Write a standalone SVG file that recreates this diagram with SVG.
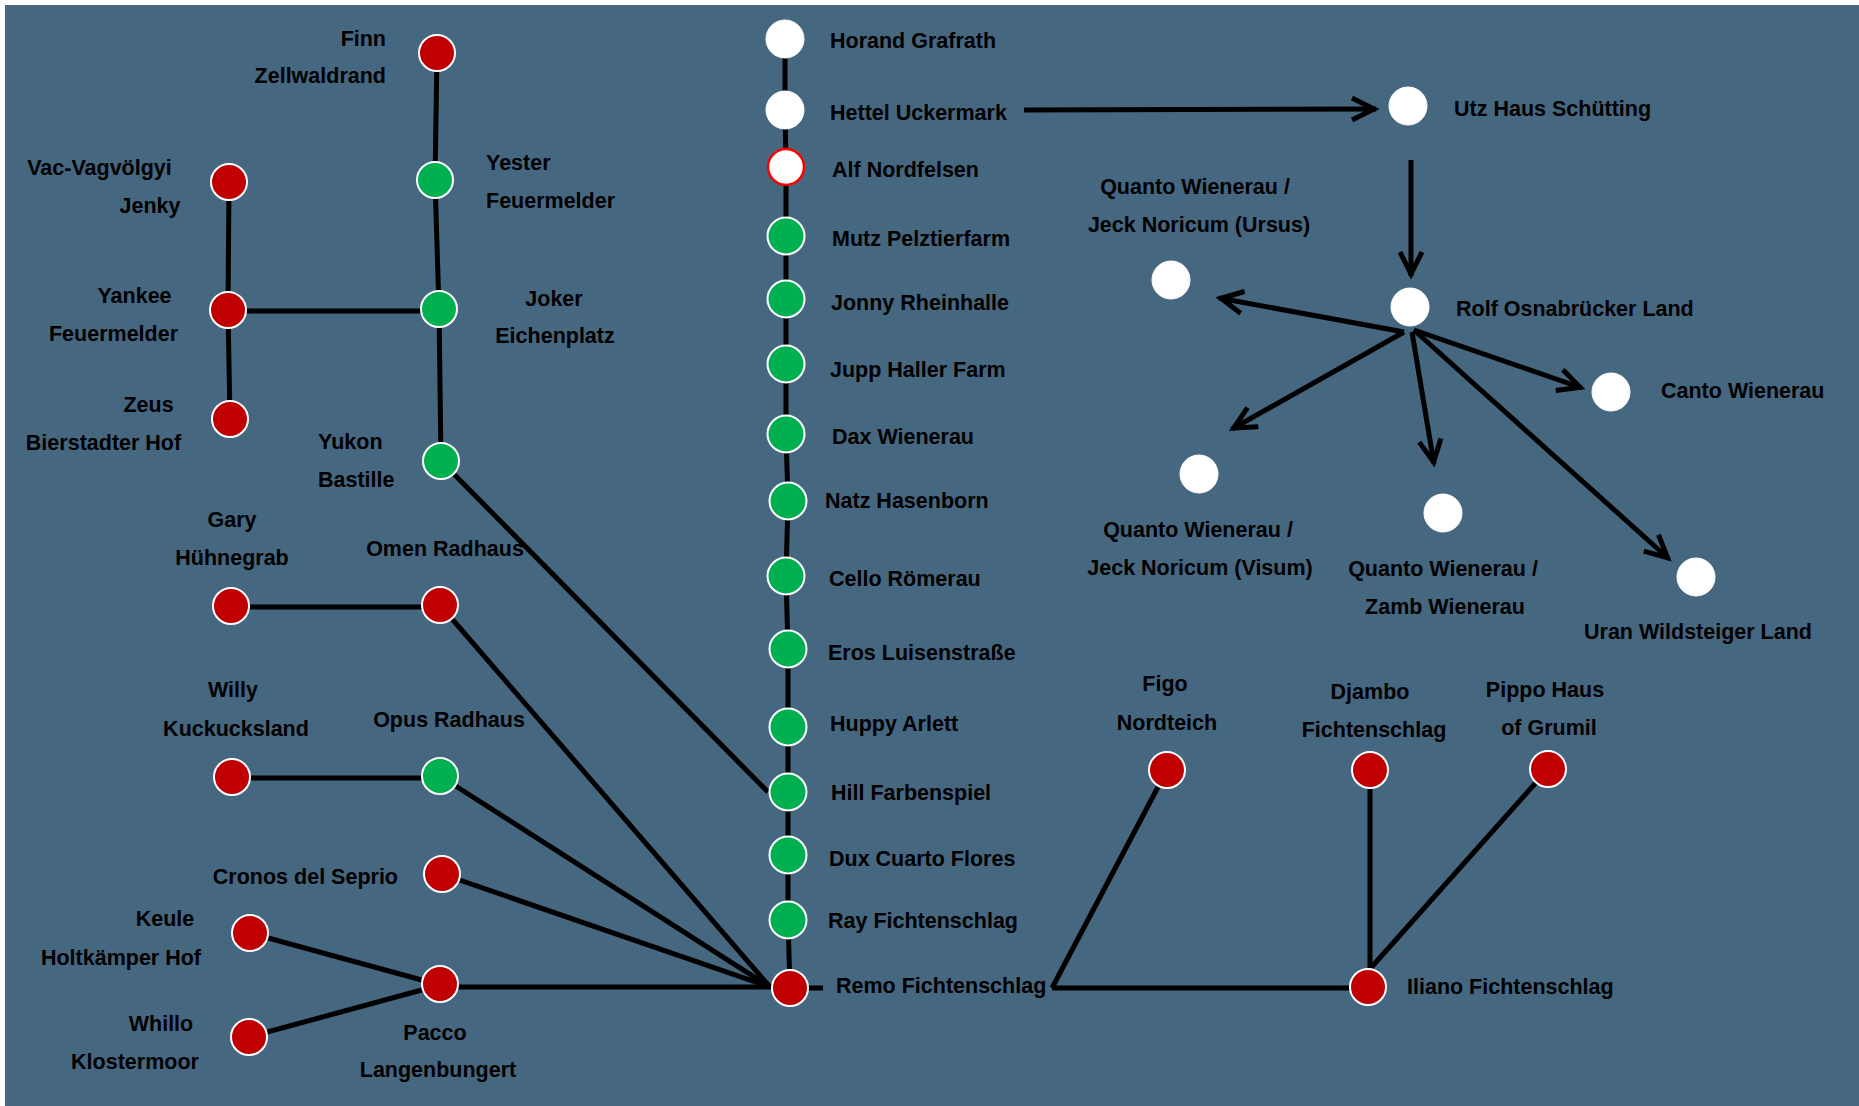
<svg xmlns="http://www.w3.org/2000/svg" width="1859" height="1106" viewBox="0 0 1859 1106">
<style>
text{font-family:"Liberation Sans",Arial,sans-serif;font-weight:bold;font-size:21.5px;fill:#000}
.m{text-anchor:middle}.e{text-anchor:end}
.red{fill:#C00000;stroke:#fff;stroke-width:2}
.grn{fill:#00B050;stroke:#fff;stroke-width:2}
.wht{fill:#fff;stroke:#fff;stroke-width:1}
.alf{fill:#fff;stroke:#f00;stroke-width:2.5}
.c line,.c polyline{stroke:#000;stroke-width:5;fill:none}
.c .a{marker-end:url(#arr)}
</style>
<defs>
<marker id="arr" markerUnits="userSpaceOnUse" markerWidth="40" markerHeight="40" viewBox="-30 -20 40 40" refX="0" refY="0" orient="auto" overflow="visible">
<path d="M-24,-11 L-2,0 L-24,11" fill="none" stroke="#000" stroke-width="5"/>
</marker>
</defs>
<rect x="0" y="0" width="1859" height="1106" fill="#fff"/>
<rect x="5" y="5" width="1854" height="1101" fill="#456780"/>
<g class="c" id="connectors">
<polyline points="785,39 785,110 786,167 786,236 786,299 786,364 786,434 788,501 786,576 788,649 788,727 788,792 788,855 788,920 790,988"/>
<line x1="437" y1="53" x2="435" y2="180"/>
<line x1="435" y1="180" x2="439" y2="309"/>
<line x1="439" y1="309" x2="441" y2="461"/>
<line x1="229" y1="182" x2="228" y2="310"/>
<line x1="228" y1="310" x2="230" y2="419"/>
<line x1="228" y1="311" x2="439" y2="311"/>
<line x1="441" y1="461" x2="768" y2="792"/>
<line x1="231" y1="607" x2="440" y2="607"/>
<line x1="440" y1="605" x2="770" y2="987"/>
<line x1="232" y1="778" x2="440" y2="778"/>
<line x1="440" y1="776" x2="770" y2="987"/>
<line x1="442" y1="874" x2="770" y2="987"/>
<line x1="250" y1="933" x2="440" y2="985"/>
<line x1="249" y1="1037" x2="440" y2="985"/>
<line x1="440" y1="987" x2="790" y2="987"/>
<line x1="790" y1="988" x2="823" y2="988"/>
<line x1="1167" y1="770" x2="1052" y2="988"/>
<line x1="1052" y1="988" x2="1368" y2="988"/>
<line x1="1370" y1="770" x2="1370" y2="987"/>
<line x1="1548" y1="769" x2="1369" y2="970"/>
<line class="a" x1="1024" y1="110" x2="1376" y2="109"/>
<line class="a" x1="1411" y1="160" x2="1411" y2="276"/>
<line class="a" x1="1404" y1="332" x2="1219" y2="298"/>
<line class="a" x1="1414" y1="330" x2="1582" y2="388"/>
<line class="a" x1="1404" y1="332" x2="1232" y2="429"/>
<line class="a" x1="1412" y1="332" x2="1434" y2="464"/>
<line class="a" x1="1414" y1="330" x2="1669" y2="559"/>
</g>
<g id="n_finn"><circle class="red" cx="437" cy="53" r="18"/><text class="e" x="386" y="46">Finn</text><text class="e" x="386" y="83">Zellwaldrand</text></g>
<g id="n_yester"><circle class="grn" cx="435" cy="180" r="18"/><text x="486" y="170">Yester</text><text x="486" y="208">Feuermelder</text></g>
<g id="n_vac"><circle class="red" cx="229" cy="182" r="18"/><text class="m" x="99.5" y="175">Vac-Vagvölgyi</text><text class="m" x="150" y="213">Jenky</text></g>
<g id="n_yankee"><circle class="red" cx="228" cy="310" r="18"/><text class="m" x="134.5" y="303">Yankee</text><text class="m" x="113.5" y="341">Feuermelder</text></g>
<g id="n_joker"><circle class="grn" cx="439" cy="309" r="18"/><text class="m" x="554" y="306">Joker</text><text class="m" x="555" y="343">Eichenplatz</text></g>
<g id="n_zeus"><circle class="red" cx="230" cy="419" r="18"/><text class="m" x="148.5" y="412">Zeus</text><text class="m" x="103.5" y="450">Bierstadter Hof</text></g>
<g id="n_yukon"><circle class="grn" cx="441" cy="461" r="18"/><text x="318" y="449">Yukon</text><text x="318" y="487">Bastille</text></g>
<g id="n_gary"><circle class="red" cx="231" cy="606" r="18"/><text class="m" x="232" y="527">Gary</text><text class="m" x="232" y="565">Hühnegrab</text></g>
<g id="n_omen"><circle class="red" cx="440" cy="605" r="18"/><text class="m" x="445" y="556">Omen Radhaus</text></g>
<g id="n_willy"><circle class="red" cx="232" cy="777" r="18"/><text class="m" x="233" y="697">Willy</text><text class="m" x="236" y="736">Kuckucksland</text></g>
<g id="n_opus"><circle class="grn" cx="440" cy="776" r="18"/><text class="m" x="449" y="727">Opus Radhaus</text></g>
<g id="n_cronos"><circle class="red" cx="442" cy="874" r="18"/><text class="e" x="398" y="884">Cronos del Seprio</text></g>
<g id="n_keule"><circle class="red" cx="250" cy="933" r="18"/><text class="m" x="165" y="926">Keule</text><text class="m" x="121" y="965">Holtkämper Hof</text></g>
<g id="n_pacco"><circle class="red" cx="440" cy="984" r="18"/><text class="m" x="435" y="1040">Pacco</text><text class="m" x="438" y="1077">Langenbungert</text></g>
<g id="n_whillo"><circle class="red" cx="249" cy="1037" r="18"/><text class="m" x="161" y="1031">Whillo</text><text class="m" x="135" y="1069">Klostermoor</text></g>
<g id="n_horand"><circle class="wht" cx="785" cy="39" r="19"/><text x="830" y="48">Horand Grafrath</text></g>
<g id="n_hettel"><circle class="wht" cx="785" cy="110" r="19"/><text x="830" y="120">Hettel Uckermark</text></g>
<g id="n_alf"><circle class="alf" cx="786" cy="167" r="18"/><text x="832" y="177">Alf Nordfelsen</text></g>
<g id="n_mutz"><circle class="grn" cx="786" cy="236" r="18.5"/><text x="832" y="246">Mutz Pelztierfarm</text></g>
<g id="n_jonny"><circle class="grn" cx="786" cy="299" r="18.5"/><text x="831" y="310">Jonny Rheinhalle</text></g>
<g id="n_jupp"><circle class="grn" cx="786" cy="364" r="18.5"/><text x="830" y="377">Jupp Haller Farm</text></g>
<g id="n_dax"><circle class="grn" cx="786" cy="434" r="18.5"/><text x="832" y="443.5">Dax Wienerau</text></g>
<g id="n_natz"><circle class="grn" cx="788" cy="501" r="18.5"/><text x="825" y="508">Natz Hasenborn</text></g>
<g id="n_cello"><circle class="grn" cx="786" cy="576" r="18.5"/><text x="829" y="586">Cello Römerau</text></g>
<g id="n_eros"><circle class="grn" cx="788" cy="649" r="18.5"/><text x="828" y="660">Eros Luisenstraße</text></g>
<g id="n_huppy"><circle class="grn" cx="788" cy="727" r="18.5"/><text x="830" y="731">Huppy Arlett</text></g>
<g id="n_hill"><circle class="grn" cx="788" cy="792" r="18.5"/><text x="831" y="800">Hill Farbenspiel</text></g>
<g id="n_dux"><circle class="grn" cx="788" cy="855" r="18.5"/><text x="829" y="866">Dux Cuarto Flores</text></g>
<g id="n_ray"><circle class="grn" cx="788" cy="920" r="18.5"/><text x="828" y="928">Ray Fichtenschlag</text></g>
<g id="n_remo"><circle class="red" cx="790" cy="988" r="18"/><text x="836" y="993">Remo Fichtenschlag</text></g>
<g id="n_utz"><circle class="wht" cx="1408" cy="106" r="19"/><text x="1454" y="116">Utz Haus Schütting</text></g>
<g id="n_rolf"><circle class="wht" cx="1410" cy="307" r="19"/><text x="1456" y="316">Rolf Osnabrücker Land</text></g>
<g id="n_ursus"><circle class="wht" cx="1171" cy="280" r="19"/><text class="m" x="1195" y="194">Quanto Wienerau /</text><text class="m" x="1199" y="231.5">Jeck Noricum (Ursus)</text></g>
<g id="n_canto"><circle class="wht" cx="1611" cy="392" r="19"/><text x="1661" y="398">Canto Wienerau</text></g>
<g id="n_visum"><circle class="wht" cx="1199" cy="474" r="19"/><text class="m" x="1198" y="537">Quanto Wienerau /</text><text class="m" x="1200" y="574.5">Jeck Noricum (Visum)</text></g>
<g id="n_zamb"><circle class="wht" cx="1443" cy="513" r="19"/><text class="m" x="1443" y="576">Quanto Wienerau /</text><text class="m" x="1445" y="613.6">Zamb Wienerau</text></g>
<g id="n_uran"><circle class="wht" cx="1696" cy="577" r="19"/><text class="m" x="1698" y="638.5">Uran Wildsteiger Land</text></g>
<g id="n_figo"><circle class="red" cx="1167" cy="770" r="18"/><text class="m" x="1165" y="691">Figo</text><text class="m" x="1167" y="730">Nordteich</text></g>
<g id="n_djambo"><circle class="red" cx="1370" cy="770" r="18"/><text class="m" x="1370" y="699">Djambo</text><text class="m" x="1374" y="737">Fichtenschlag</text></g>
<g id="n_pippo"><circle class="red" cx="1548" cy="769" r="18"/><text class="m" x="1545" y="697">Pippo Haus</text><text class="m" x="1549" y="735">of Grumil</text></g>
<g id="n_iliano"><circle class="red" cx="1368" cy="987" r="18"/><text x="1407" y="994">Iliano Fichtenschlag</text></g>
</svg>
